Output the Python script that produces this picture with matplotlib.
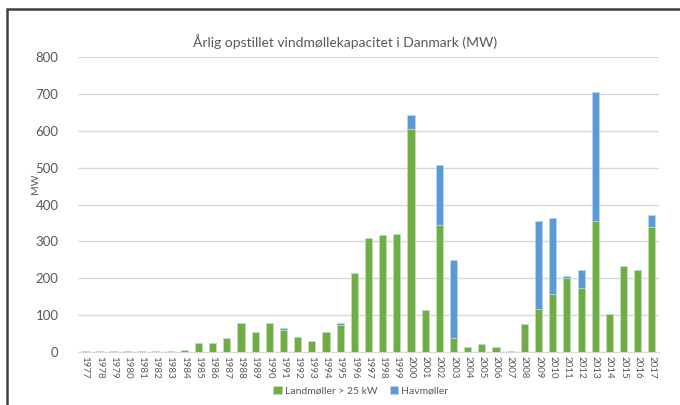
import matplotlib

matplotlib.use("Agg")
import matplotlib.pyplot as plt
import numpy as np
from matplotlib.patches import Rectangle

plt.rcParams["font.family"] = ["Lato", "DejaVu Sans"]

years = list(range(1977, 2018))
land = [3, 3, 3, 3, 3, 3, 3, 6, 25, 25, 39, 78, 55, 78, 61, 42, 31, 54, 72, 215,
        310, 316, 321, 604, 113, 344, 37, 13, 23, 13, 4, 76, 116, 156, 202, 173,
        354, 104, 234, 223, 340]
hav = [0, 0, 0, 0, 0, 0, 0, 0, 0, 0, 0, 0, 0, 0, 5, 0, 0, 0, 6, 0,
       0, 0, 0, 40, 0, 162, 212, 0, 0, 0, 0, 0, 238, 207, 4, 50,
       350, 0, 0, 0, 31]

GREEN = "#70ad47"
BLUE = "#5b9bd5"
GREY = "#595959"

fig = plt.figure(figsize=(6.8, 4.05), dpi=100)
ax = fig.add_axes([78 / 680, 1 - 352 / 405, (659 - 78) / 680, (352 - 57) / 405])

x = np.arange(len(years))
ax.bar(x, land, width=0.5, color=GREEN, edgecolor="#c5e0b4", linewidth=0.5,
       label="Landmøller > 25 kW", zorder=3)
ax.bar(x, hav, width=0.5, bottom=land, color=BLUE, edgecolor="#bdd7ee", linewidth=0.5,
       label="Havmøller", zorder=3)

ax.set_xlim(-0.5, len(years) - 0.5)
ax.set_ylim(0, 800)
ax.set_yticks(range(0, 801, 100))
ax.set_xticks(x)
ax.set_xticklabels([str(y) for y in years], rotation=-90, fontsize=7, color=GREY)
ax.tick_params(axis="y", labelsize=9.5, colors=GREY, length=0, pad=14)
ax.tick_params(axis="x", length=0, pad=3)
ax.grid(axis="y", color="#d9d9d9", linewidth=1, zorder=0)
for s in ["top", "right", "left"]:
    ax.spines[s].set_visible(False)
ax.spines["bottom"].set_color("#d9d9d9")
ax.set_ylabel("MW", fontsize=7.5, color=GREY, labelpad=0)
ax.yaxis.set_label_coords(-0.066, 0.57)

fig.text(345 / 680, 1 - 42 / 405, "Årlig opstillet vindmøllekapacitet i Danmark (MW)",
         ha="center", va="center", fontsize=10, color=GREY)

fig.legend(loc="center", bbox_to_anchor=(361 / 680, 1 - 391 / 405), ncol=2, frameon=False,
           fontsize=7.5, labelcolor=GREY, handlelength=0.8, handleheight=0.8,
           handletextpad=0.3, columnspacing=1.2)

fig.patches.append(Rectangle((7 / 680, -0.1), 1.2, 1 - 9 / 405 + 0.1, transform=fig.transFigure,
                             fill=False, edgecolor="#404040", linewidth=1.8))

fig.savefig("out.png", dpi=100)
